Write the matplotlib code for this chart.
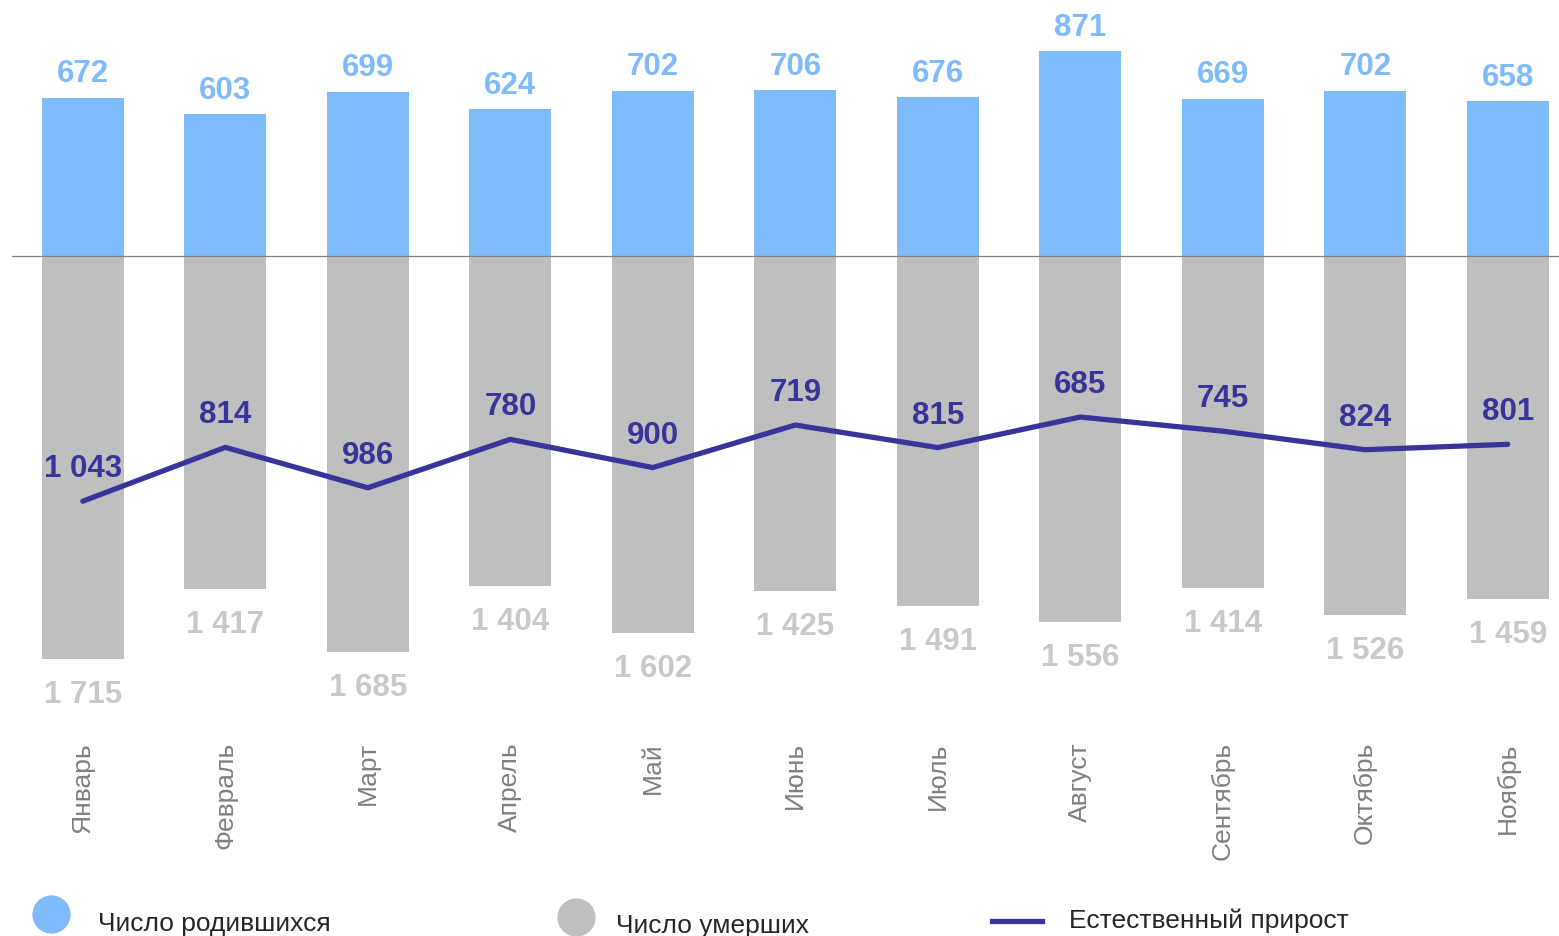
import matplotlib
matplotlib.use('Agg')
import matplotlib.pyplot as plt
from matplotlib.lines import Line2D
import numpy as np

plt.rcParams['font.family'] = ['Liberation Sans', 'DejaVu Sans']

months = ['Январь', 'Февраль', 'Март', 'Апрель', 'Май', 'Июнь', 'Июль',
          'Август', 'Сентябрь', 'Октябрь', 'Ноябрь']
births = [672, 603, 699, 624, 702, 706, 676, 871, 669, 702, 658]
deaths = [1715, 1417, 1685, 1404, 1602, 1425, 1491, 1556, 1414, 1526, 1459]
growth = [1043, 814, 986, 780, 900, 719, 815, 685, 745, 824, 801]

c_birth = '#7FBBFB'
c_death = '#BFBFBF'
c_death_lbl = '#C8C8C8'
c_line = '#38349A'

def fmt(v):
    return f'{v:,}'.replace(',', ' ')

W, H = 1559, 937
fig = plt.figure(figsize=(W / 100, H / 100), dpi=100)
ax = fig.add_axes([12 / W, 217 / H, 1547 / W, 720 / H])

x = np.arange(len(months))
ax.bar(x, births, width=0.575, color=c_birth, zorder=2)
ax.bar(x, [-d for d in deaths], width=0.575, color=c_death, zorder=2)
ax.plot(x, [-g for g in growth], color=c_line, lw=3.8, solid_capstyle='round', zorder=4)
ax.axhline(0, color='#808080', lw=0.9, zorder=3)

for i in range(len(months)):
    ax.annotate(fmt(births[i]), (x[i], births[i]), xytext=(0, 12), textcoords='offset points',
                ha='center', va='baseline', fontsize=22.5, fontweight='bold', color=c_birth)
    ax.annotate(fmt(deaths[i]), (x[i], -deaths[i]), xytext=(0, -31), textcoords='offset points',
                ha='center', va='baseline', fontsize=22.5, fontweight='bold', color=c_death_lbl)
    ax.annotate(fmt(growth[i]), (x[i], -growth[i]), xytext=(0, 18), textcoords='offset points',
                ha='center', va='baseline', fontsize=22.5, fontweight='bold', color=c_line, zorder=5)

ax.set_xlim(-0.497, 10.36)
ax.set_ylim(-1970, 1094)
ax.set_xticks(x)
ax.set_xticklabels(months, rotation=90, fontsize=19, color='#7F7F7F')
ax.tick_params(axis='x', length=0, pad=16)
ax.set_yticks([])
for s in ax.spines.values():
    s.set_visible(False)

# legend
def fx(px):
    return px / W

def fy(py):
    return 1 - py / H

fig.add_artist(Line2D([fx(51)], [fy(915)], marker='o', ms=26.5, color=c_birth, lw=0))
fig.text(fx(98), fy(931), 'Число родившихся', fontsize=19, color='#262626', va='baseline')
fig.add_artist(Line2D([fx(576)], [fy(918)], marker='o', ms=26.5, color=c_death, lw=0))
fig.text(fx(616), fy(933), 'Число умерших', fontsize=19, color='#262626', va='baseline')
fig.add_artist(Line2D([fx(992), fx(1042)], [fy(922), fy(922)], color=c_line, lw=3.8))
fig.text(fx(1069), fy(928), 'Естественный прирост', fontsize=19, color='#262626', va='baseline')

fig.savefig('out.png', dpi=100)
